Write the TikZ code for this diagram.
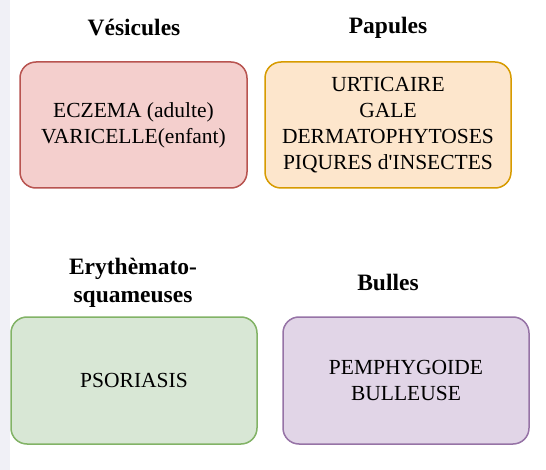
\documentclass[tikz,border=0pt]{standalone}
\usepackage{fontspec}
\setmainfont{Liberation Serif}
\definecolor{redfill}{HTML}{F4CFCD}
\definecolor{redline}{HTML}{B85450}
\definecolor{orfill}{HTML}{FDE6CC}
\definecolor{orline}{HTML}{D79B00}
\definecolor{grfill}{HTML}{D8E7D5}
\definecolor{grline}{HTML}{82B366}
\definecolor{pufill}{HTML}{E1D5E7}
\definecolor{puline}{HTML}{9673A6}
\definecolor{strip}{HTML}{F0F0F6}
\begin{document}
\begin{tikzpicture}[x=1pt,y=-1pt,
  box/.style={draw, line width=1.5pt, rounded corners=16pt, align=center,
    font=\fontsize{21.5}{26}\selectfont, text=black, inner sep=0pt},
  title/.style={align=center, font=\fontsize{23.5}{28}\selectfont\bfseries, text=black}]
\useasboundingbox (0,0) rectangle (546,470);
\fill[white] (0,0) rectangle (546,470);
\fill[strip] (0,0) rectangle (10,470);
\node[title] (t1) at (134,28) {Vésicules};
\node[title] (t2) at (388,28) {Papules};
\node[title] (t3) at (133,283) {Erythèmato-\\squameuses};
\node[title] (t4) at (388,282) {Bulles};
\node[box, fill=redfill, draw=redline, minimum width=227pt, minimum height=126pt] (b1) at (133.5,125) {ECZEMA (adulte)\\VARICELLE(enfant)};
\node[box, fill=orfill, draw=orline, minimum width=246pt, minimum height=126pt] (b2) at (388,125) {URTICAIRE\\GALE\\DERMATOPHYTOSES\\PIQURES d\textquotesingle INSECTES};
\node[box, fill=grfill, draw=grline, minimum width=246pt, minimum height=127pt] (b3) at (134,380.5) {PSORIASIS};
\node[box, fill=pufill, draw=puline, minimum width=246pt, minimum height=127pt] (b4) at (406,380.5) {PEMPHYGOIDE\\BULLEUSE};
\end{tikzpicture}
\end{document}
